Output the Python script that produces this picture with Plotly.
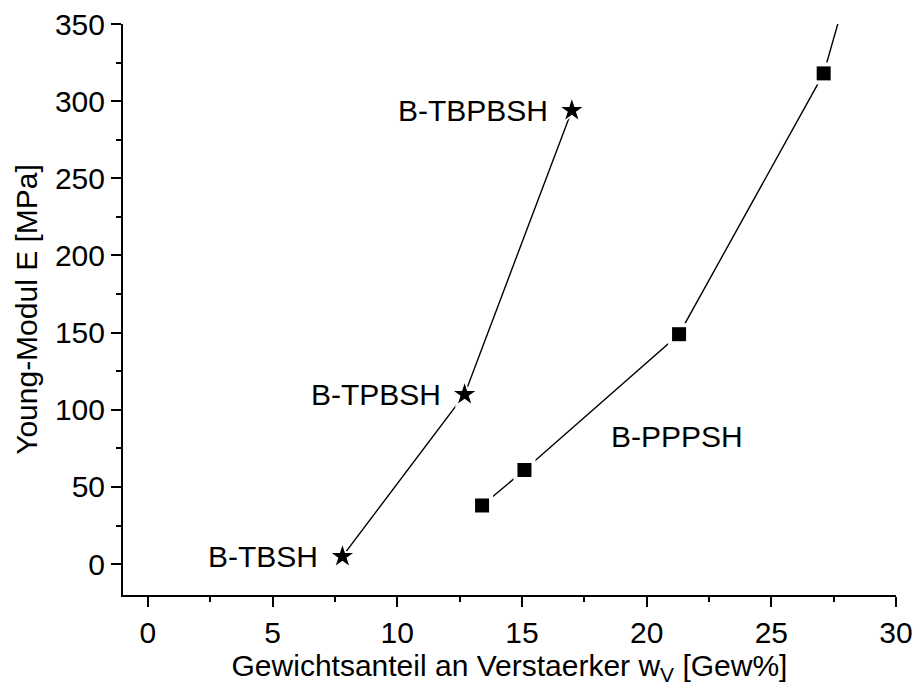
import plotly.graph_objects as go

# Star series: B-TBSH, B-TPBSH, B-TBPBSH
star_x = [7.8, 12.7, 17.0]
star_y = [5, 110, 294]
star_names = ["B-TBSH", "B-TPBSH", "B-TBPBSH"]

# Square series: B-PPPSH (last point lies above the plotted range)
sq_x = [13.4, 15.1, 21.3, 27.1, 28.9]
sq_y = [38, 61, 149, 318, 420]
sq_name = "B-PPPSH"
sq_label_pos = (18.5, 83)

FONT = "Liberation Sans, Arial, sans-serif"
FS = 30

fig = go.Figure()

def add_series(x, y, symbol, size, halo):
    # connecting line
    fig.add_trace(go.Scatter(x=x, y=y, mode="lines",
                             line=dict(color="black", width=1.4),
                             hoverinfo="skip", showlegend=False))
    # white halo leaves a small gap between line and marker
    fig.add_trace(go.Scatter(x=x, y=y, mode="markers",
                             marker=dict(symbol=symbol, size=size + halo, color="white",
                                         line=dict(width=0)),
                             hoverinfo="skip", showlegend=False))
    fig.add_trace(go.Scatter(x=x, y=y, mode="markers",
                             marker=dict(symbol=symbol, size=size, color="black",
                                         line=dict(width=0)),
                             showlegend=False))

add_series(star_x, star_y, "star", 16, 8)
add_series(sq_x, sq_y, "square", 14, 8)

for x, y, name in zip(star_x, star_y, star_names):
    fig.add_annotation(x=x, y=y, text=name, showarrow=False,
                       xanchor="right", yanchor="middle", xshift=-22,
                       font=dict(family=FONT, size=FS, color="black"))

fig.add_annotation(x=sq_label_pos[0], y=sq_label_pos[1], text=sq_name, showarrow=False,
                   xanchor="left", yanchor="middle",
                   font=dict(family=FONT, size=FS, color="black"))

axis_common = dict(
    showline=True, linecolor="black", linewidth=2,
    ticks="outside", ticklen=10, tickwidth=2, tickcolor="black",
    showgrid=False, zeroline=False, mirror=False, automargin=False,
    tickfont=dict(family=FONT, size=FS, color="black"),
)

fig.update_xaxes(range=[-1, 30], dtick=5, tick0=0,
                 minor=dict(dtick=2.5, ticks="outside", ticklen=5, tickwidth=2, tickcolor="black"),
                 title=dict(text="Gewichtsanteil an Verstaerker w<sub>V</sub> [Gew%]",
                            font=dict(family=FONT, size=FS, color="black"), standoff=0),
                 **axis_common)
fig.update_yaxes(range=[-20, 350], dtick=50, tick0=0,
                 minor=dict(dtick=25, ticks="outside", ticklen=5, tickwidth=2, tickcolor="black"),
                 title=dict(text="Young-Modul E [MPa]",
                            font=dict(family=FONT, size=FS, color="black"), standoff=8),
                 **axis_common)

fig.update_layout(width=916, height=690,
                  margin=dict(l=123, r=20, t=24, b=95),
                  plot_bgcolor="white", paper_bgcolor="white",
                  showlegend=False)

fig.write_html("out.html")
